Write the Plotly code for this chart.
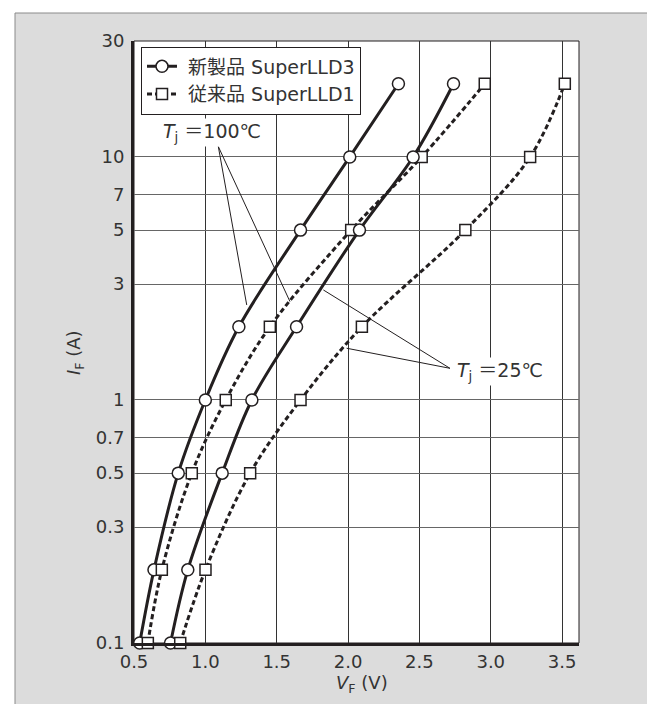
import math
import plotly.graph_objects as go

# ---- data ----
current_a = [0.1, 0.2, 0.5, 1, 2, 5, 10, 20]
vf_new_100 = [0.54, 0.64, 0.81, 1.00, 1.235, 1.667, 2.012, 2.353]
vf_old_100 = [0.597, 0.695, 0.905, 1.143, 1.452, 2.022, 2.516, 2.958]
vf_new_25 = [0.756, 0.877, 1.118, 1.326, 1.639, 2.08, 2.456, 2.739]
vf_old_25 = [0.824, 1.001, 1.314, 1.667, 2.097, 2.822, 3.276, 3.519]

x_ticks = [0.5, 1.0, 1.5, 2.0, 2.5, 3.0, 3.5]
x_tick_text = ["0.5", "1.0", "1.5", "2.0", "2.5", "3.0", "3.5"]
y_ticks = [0.1, 0.3, 0.5, 0.7, 1, 3, 5, 7, 10, 30]
y_tick_text = ["0.1", "0.3", "0.5", "0.7", "1", "3", "5", "7", "10", "30"]

legend_new = "新製品 SuperLLD3"
legend_old = "従来品 SuperLLD1"

# callouts: label anchor point and the curve points the leader lines reach
callout_100_label = (1.091, 11.03)
callout_100_ends = [(1.290, 2.46), (1.593, 2.54)]
callout_100_text_pos = (1.05, 12.55)
callout_25_label = (2.714, 1.35)
callout_25_ends = [(1.827, 2.836), (1.990, 1.633)]
callout_25_text_pos = (3.065, 1.308)

INK = "#231f20"
TXT = "#333333"
FONT = "DejaVu Sans, Noto Sans CJK JP"

fig = go.Figure()

def add_series(xs, name, dashed, show):
    fig.add_trace(go.Scatter(
        x=xs, y=current_a, mode="lines+markers", name="\u00a0" + name,
        legendgroup=name, showlegend=show, cliponaxis=False,
        line=dict(color=INK, width=3, shape="spline", smoothing=1.0,
                  dash="5px,3px" if dashed else "solid"),
        marker=dict(symbol="square" if dashed else "circle",
                    size=11 if dashed else 12, color="white",
                    line=dict(color=INK, width=1.5)),
    ))

add_series(vf_new_100, legend_new, False, True)
add_series(vf_old_100, legend_old, True, True)
add_series(vf_new_25, legend_new, False, False)
add_series(vf_old_25, legend_old, True, False)

# leader lines
for lab, ends in [(callout_100_label, callout_100_ends), (callout_25_label, callout_25_ends)]:
    for e in ends:
        fig.add_trace(go.Scatter(x=[lab[0], e[0]], y=[lab[1], e[1]], mode="lines",
                                 showlegend=False, hoverinfo="skip",
                                 line=dict(color=INK, width=1)))

# geometry: page pixels -> figure (page has an 8px body margin)
OFF = 8
W, H = 655 - OFF, 704 - OFF
L, T = 134 - OFF, 41 - OFF
R = W - (579 - OFF)
B = H - (643 - OFF)
pw, ph = W - L - R, H - T - B

def px_x(p):
    return (p - OFF - L) / pw

def px_y(p):
    return (H - B - (p - OFF)) / ph

shapes = [
    dict(type="rect", xref="paper", yref="paper", layer="below",
         x0=px_x(15), x1=px_x(652), y0=px_y(720), y1=px_y(13),
         fillcolor="#dcdcdc", line=dict(color="#8a8a8a", width=1)),
    dict(type="rect", xref="paper", yref="paper", layer="below",
         x0=0, x1=1, y0=0, y1=1, fillcolor="white",
         line=dict(color=INK, width=1)),
]

annotations = [
    dict(xref="x", yref="y", x=callout_100_text_pos[0], y=math.log10(callout_100_text_pos[1]),
         xanchor="center", yanchor="middle",
         text="<i>T</i><sub>j</sub> ＝100℃", showarrow=False, bgcolor="white",
         font=dict(family=FONT, size=19, color=TXT)),
    dict(xref="x", yref="y", x=callout_25_text_pos[0], y=math.log10(callout_25_text_pos[1]),
         xanchor="center", yanchor="middle",
         text="<i>T</i><sub>j</sub> ＝25℃", showarrow=False, bgcolor="white",
         font=dict(family=FONT, size=19, color=TXT)),
    dict(xref="paper", yref="paper", x=px_x(362), y=px_y(684),
         xanchor="center", yanchor="middle",
         text="<i>V</i><sub>F</sub> (V)", showarrow=False,
         font=dict(family=FONT, size=18, color=TXT)),
    dict(xref="paper", yref="paper", x=px_x(75), y=px_y(353), textangle=-90,
         xanchor="center", yanchor="middle",
         text="<i>I</i><sub>F</sub> (A)", showarrow=False,
         font=dict(family=FONT, size=18, color=TXT)),
]

fig.update_layout(
    width=W, height=H,
    margin=dict(l=L, r=R, t=T, b=B, pad=0),
    paper_bgcolor="white", plot_bgcolor="rgba(0,0,0,0)",
    font=dict(family=FONT, size=18, color=TXT),
    shapes=shapes, annotations=annotations,
    legend=dict(x=px_x(141), y=px_y(46.5), xanchor="left", yanchor="top",
                bgcolor="white", bordercolor=INK, borderwidth=1,
                font=dict(family=FONT, size=19, color=TXT),
                tracegroupgap=0),
    showlegend=True,
)

fig.update_xaxes(range=[0.5, 0.5 + pw / 142.7], tickvals=x_ticks, ticktext=x_tick_text,
                 showgrid=True, gridcolor="#333", gridwidth=1,
                 showline=True, linecolor=INK, linewidth=3, zeroline=False,
                 ticks="", ticklabelstandoff=0,
                 tickfont=dict(family=FONT, size=18, color=TXT))
fig.update_yaxes(type="log", range=[-1, math.log10(30)], tickvals=y_ticks, ticktext=y_tick_text,
                 showgrid=True, gridcolor="#666", gridwidth=1,
                 showline=True, linecolor=INK, linewidth=3, zeroline=False,
                 ticks="", ticklabelstandoff=3,
                 tickfont=dict(family=FONT, size=18, color=TXT))

fig.write_html("out.html")
